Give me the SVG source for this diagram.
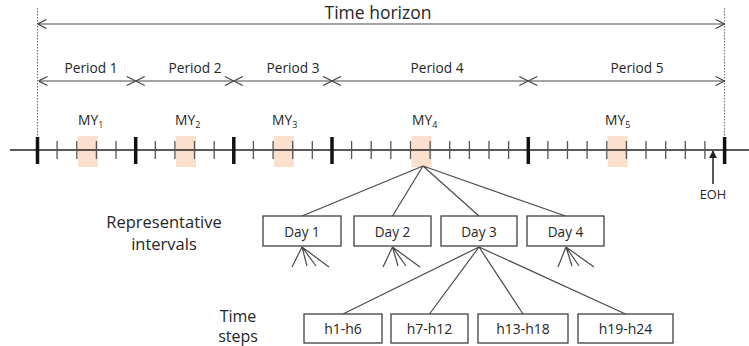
<svg xmlns="http://www.w3.org/2000/svg" width="749" height="346" viewBox="0 0 749 346">
<style>
text{font-family:"Open Sans","Liberation Sans",sans-serif;fill:#262626}
.ln{stroke:#4a4a4a;stroke-width:1.2;fill:none}
.box{fill:#fff;stroke:#404040;stroke-width:1.3}
.my{fill:#fbe0cd}
.st{stroke:#555;stroke-width:1.3}
.bt{stroke:#111;stroke-width:3.5}
.dot{stroke:#666;stroke-width:1;stroke-dasharray:1.5 1.5}
.c{text-anchor:middle}
</style>
<defs>
<marker id="arr" viewBox="0 0 10 10" refX="10" refY="5" markerWidth="10" markerHeight="10" orient="auto-start-reverse" markerUnits="userSpaceOnUse">
<path d="M1,0.5 L10,5 L1,9.5" fill="none" stroke="#444" stroke-width="1.2"/>
</marker>
<marker id="tri" viewBox="0 0 10 10" refX="9" refY="5" markerWidth="8" markerHeight="8" orient="auto" markerUnits="userSpaceOnUse">
<path d="M0,0 L10,5 L0,10 z" fill="#222"/>
</marker>
</defs>

<g id="horizon">
<line class="dot" x1="37.5" y1="8" x2="37.5" y2="137"/>
<line class="dot" x1="724.6" y1="8" x2="724.6" y2="137"/>
<line class="ln" x1="37.5" y1="24" x2="724.6" y2="24" marker-start="url(#arr)" marker-end="url(#arr)"/>
<text class="c" x="378" y="19" font-size="17.5">Time horizon</text>
</g>

<g id="periods">
<line class="ln" x1="38.5" y1="81" x2="135.7" y2="81" marker-start="url(#arr)" marker-end="url(#arr)"/>
<line class="ln" x1="135.7" y1="81" x2="233.8" y2="81" marker-start="url(#arr)" marker-end="url(#arr)"/>
<line class="ln" x1="233.8" y1="81" x2="332" y2="81" marker-start="url(#arr)" marker-end="url(#arr)"/>
<line class="ln" x1="332" y1="81" x2="528.3" y2="81" marker-start="url(#arr)" marker-end="url(#arr)"/>
<line class="ln" x1="528.3" y1="81" x2="724.6" y2="81" marker-start="url(#arr)" marker-end="url(#arr)"/>
<text class="c" x="91" y="73" font-size="13.7">Period 1</text>
<text class="c" x="195" y="73" font-size="13.7">Period 2</text>
<text class="c" x="293" y="73" font-size="13.7">Period 3</text>
<text class="c" x="437" y="73" font-size="13.7">Period 4</text>
<text class="c" x="637" y="73" font-size="13.7">Period 5</text>
</g>

<g id="milestone-years">
<rect class="my" x="78" y="136" width="20" height="31"/>
<rect class="my" x="176" y="136" width="20" height="31"/>
<rect class="my" x="274" y="136" width="20" height="31"/>
<rect class="my" x="411.5" y="136" width="20" height="31"/>
<rect class="my" x="607.8" y="136" width="20" height="31"/>
<text x="78" y="125" font-size="13.8">MY<tspan font-size="9" dy="3">1</tspan></text>
<text x="175" y="125" font-size="13.8">MY<tspan font-size="9" dy="3">2</tspan></text>
<text x="272" y="125" font-size="13.8">MY<tspan font-size="9" dy="3">3</tspan></text>
<text x="412" y="125" font-size="13.8">MY<tspan font-size="9" dy="3">4</tspan></text>
<text x="605" y="125" font-size="13.8">MY<tspan font-size="9" dy="3">5</tspan></text>
</g>

<g id="timeline">
<line x1="10" y1="150" x2="749" y2="150" stroke="#222" stroke-width="1.5"/>
<path class="st" d="M57.1 141V159M76.8 141V159M96.4 141V159M116 141V159M155.3 141V159M174.9 141V159M194.5 141V159M214.2 141V159M253.4 141V159M273.1 141V159M292.7 141V159M312.3 141V159M351.6 141V159M371.2 141V159M390.8 141V159M410.5 141V159M430.1 141V159M449.7 141V159M469.4 141V159M489 141V159M508.6 141V159M547.9 141V159M567.5 141V159M587.1 141V159M606.8 141V159M626.4 141V159M646 141V159M665.7 141V159M685.3 141V159M704.9 141V159"/>
<path class="bt" d="M37.5 137V164M135.7 137V164M233.8 137V164M332 137V164M528.3 137V164M724.6 137V164"/>
</g>

<g id="eoh">
<line x1="713" y1="184" x2="713" y2="151" stroke="#222" stroke-width="1.5" marker-end="url(#tri)"/>
<text class="c" x="713" y="199" font-size="12.8">EOH</text>
</g>

<g id="connectors">
<path class="ln" d="M423 166L302 216M423 166L392.5 216M423 166L479 216M423 166L565.5 216"/>
<path class="ln" d="M302 247L292 267M302 247L307 266M302 247L316 266M302 247L329 267"/>
<path class="ln" d="M392.5 247L383 267M392.5 247L398 266M392.5 247L406 266M392.5 247L420 267"/>
<path class="ln" d="M566 247L558 267M566 247L572 266M566 247L579 266M566 247L594 267"/>
<path class="ln" d="M479 247L343 314M479 247L429.5 314M479 247L523 314M479 247L625.5 314"/>
</g>

<g id="label-intervals">
<text class="c" x="164" y="228" font-size="16.5">Representative</text>
<text class="c" x="164" y="250" font-size="16.5">intervals</text>
</g>
<g id="label-steps">
<text class="c" x="238" y="322" font-size="16">Time</text>
<text class="c" x="238" y="342" font-size="16">steps</text>
</g>

<g id="day1"><rect class="box" x="263" y="216" width="78" height="30"/><text class="c" x="302" y="237" font-size="13.6">Day 1</text></g>
<g id="day2"><rect class="box" x="354" y="216" width="77" height="30"/><text class="c" x="392.5" y="237" font-size="13.6">Day 2</text></g>
<g id="day3"><rect class="box" x="441" y="216" width="76" height="30"/><text class="c" x="479" y="237" font-size="13.6">Day 3</text></g>
<g id="day4"><rect class="box" x="527" y="216" width="77" height="30"/><text class="c" x="565.5" y="237" font-size="13.6">Day 4</text></g>

<g id="h1-h6"><rect class="box" x="304" y="314" width="78" height="29"/><text class="c" x="343" y="334" font-size="14">h1-h6</text></g>
<g id="h7-h12"><rect class="box" x="391" y="314" width="77" height="29"/><text class="c" x="429.5" y="334" font-size="14">h7-h12</text></g>
<g id="h13-h18"><rect class="box" x="478" y="314" width="90" height="29"/><text class="c" x="523" y="334" font-size="14">h13-h18</text></g>
<g id="h19-h24"><rect class="box" x="578" y="314" width="95" height="29"/><text class="c" x="625.5" y="334" font-size="14">h19-h24</text></g>
</svg>
